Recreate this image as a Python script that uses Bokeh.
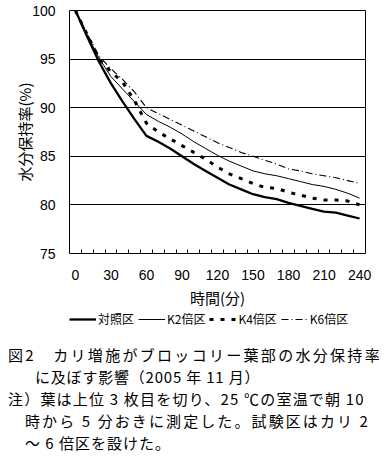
from bokeh.plotting import figure
from bokeh.layouts import column
from bokeh.models import FixedTicker, Legend, LegendItem, Range1d, Div
from bokeh.embed import file_html
from bokeh.resources import INLINE

# ---- data ----
minutes = [0, 10, 20, 30, 40, 50, 60, 70, 80, 90, 100, 110, 120,
           130, 140, 150, 160, 170, 180, 190, 200, 210, 220, 230, 240]
control = [100, 97.3, 94.7, 92.5, 90.6, 88.8, 87.1, 86.5, 85.8, 85.0, 84.2, 83.5, 82.8,
           82.1, 81.6, 81.1, 80.8, 80.6, 80.2, 79.9, 79.6, 79.3, 79.2, 78.9, 78.6]
k2 = [100, 97.4, 95.1, 93.2, 91.9, 90.6, 89.3, 88.6, 88.0, 87.3, 86.5, 85.8, 85.1,
      84.5, 84.0, 83.5, 83.2, 83.0, 82.7, 82.4, 82.1, 81.9, 81.6, 81.2, 80.7]
k4 = [100, 97.5, 95.0, 93.7, 92.6, 90.7, 88.4, 87.5, 86.8, 86.1, 85.4, 84.7, 83.9,
      83.2, 82.7, 82.2, 81.8, 81.7, 81.3, 81.0, 80.7, 80.5, 80.5, 80.4, 80.0]
k6 = [100, 97.6, 95.3, 94.0, 92.9, 91.6, 90.0, 89.4, 88.8, 88.2, 87.6, 87.0, 86.4,
      85.9, 85.4, 85.0, 84.6, 84.2, 83.7, 83.5, 83.2, 83.0, 82.8, 82.5, 82.2]
series = [control, k2, k4, k6]
series_names = ["対照区", "K2倍区", "K4倍区", "K6倍区"]
x_ticks = [0, 30, 60, 90, 120, 150, 180, 210, 240]
x_minor = [5, 15, 25, 35, 45, 55, 65, 75, 85, 95, 105, 115, 125, 135, 145, 155,
           165, 175, 185, 195, 205, 215, 225, 235]
y_ticks = [75, 80, 85, 90, 95, 100]
y_title = "水分保持率(%)"
x_title = "時間(分)"
caption = [
    "図2　カリ増施がブロッコリー葉部の水分保持率",
    "に及ぼす影響（2005 年 11 月）",
    "注）葉は上位 3 枚目を切り、25 ℃の室温で朝 10",
    "時から 5 分おきに測定した。試験区はカリ 2",
    "～ 6 倍区を設けた。",
]

# ---- styles / layout (pixels) ----
line_widths = [2.3, 1, 3, 1.1]
line_dashes = ["solid", "solid", "4 7", "7 3 1 3"]
cap_left = [8, 35, 8, 25, 25]
cap_top = [19.4, 41.2, 63.0, 84.8, 106.6]
cap_spacing = [2.3, 0.8, 1.2, 2.1, 1.0]

JP = "Noto Sans CJK JP"

p = figure(frame_width=296, frame_height=243, output_backend="svg", toolbar_location=None,
           x_range=Range1d(-5, 245), y_range=Range1d(75, 100),
           min_border_left=69, min_border_right=21, min_border_top=10,
           min_border_bottom=0)
p.background_fill_color = "white"
p.border_fill_color = "white"
p.outline_line_color = "black"
p.outline_line_width = 1

xa = p.xaxis[0]
xa.ticker = FixedTicker(ticks=x_ticks, minor_ticks=x_minor)
xa.axis_line_color = None
xa.major_tick_in = 0
xa.major_tick_out = 0
xa.minor_tick_in = 4
xa.minor_tick_out = 0
xa.minor_tick_line_color = "black"
xa.major_label_standoff = 16
xa.major_label_text_font = "Liberation Sans"
xa.major_label_text_font_size = "14px"
xa.major_label_text_color = "black"
xa.axis_label = x_title
xa.axis_label_standoff = 4
xa.axis_label_text_font = JP
xa.axis_label_text_font_style = "normal"
xa.axis_label_text_font_size = "15px"
xa.axis_label_text_color = "black"

ya = p.yaxis[0]
ya.ticker = FixedTicker(ticks=y_ticks)
ya.axis_line_color = None
ya.major_tick_in = 0
ya.major_tick_out = 0
ya.minor_tick_in = 0
ya.minor_tick_out = 0
ya.major_label_standoff = 14
ya.major_label_text_font = "Liberation Sans"
ya.major_label_text_font_size = "14px"
ya.major_label_text_color = "black"
ya.axis_label = y_title
ya.axis_label_standoff = -6
ya.axis_label_text_font = JP
ya.axis_label_text_font_style = "normal"
ya.axis_label_text_font_size = "15px"
ya.axis_label_text_color = "black"

p.xgrid.visible = False
p.ygrid.ticker = FixedTicker(ticks=y_ticks)
p.ygrid.grid_line_color = "black"
p.ygrid.grid_line_width = 1

for ys, lw, ld in zip(series, line_widths, line_dashes):
    p.line(minutes, ys, line_color="black", line_width=lw, line_dash=ld)

# legend strip (same series; only the legend key is visible in this strip)
lg = figure(frame_width=296, frame_height=18, output_backend="svg", toolbar_location=None,
            x_range=Range1d(-5, 245), y_range=Range1d(0, 1),
            x_axis_type=None, y_axis_type=None,
            min_border_left=69, min_border_right=21, min_border_top=0,
            min_border_bottom=0)
lg.grid.visible = False
lg.outline_line_color = None
lg.background_fill_color = "white"
lg.border_fill_color = "white"
items = []
for name, ys, lw, ld in zip(series_names, series, line_widths, line_dashes):
    r = lg.line(minutes, ys, line_color="black", line_width=lw, line_dash=ld)
    items.append(LegendItem(label=name, renderers=[r]))
legend = Legend(items=items, orientation="horizontal", location="top_left",
                glyph_width=27, glyph_height=16, label_height=16,
                label_standoff=2, spacing=4, padding=0, margin=0,
                border_line_color=None, background_fill_alpha=0,
                label_text_font=JP, label_text_font_size="12px",
                label_text_color="black")
lg.add_layout(legend)

# caption
lines_html = "".join(
    f'<div style="position:absolute;left:{x}px;top:{t}px;white-space:nowrap;'
    f'letter-spacing:{ls}px;">{txt}</div>'
    for txt, x, t, ls in zip(caption, cap_left, cap_top, cap_spacing))
cap = Div(text=(f'<div style="position:relative;width:386px;height:126px;'
                f"font-family:'{JP}';font-size:15px;line-height:1;color:#000;\">"
                f'{lines_html}</div>'),
          width=386, height=126, margin=(0, 0, 0, 0))

layout = column(p, lg, cap, spacing=0)
open("out.html", "w").write(file_html(layout, INLINE))
